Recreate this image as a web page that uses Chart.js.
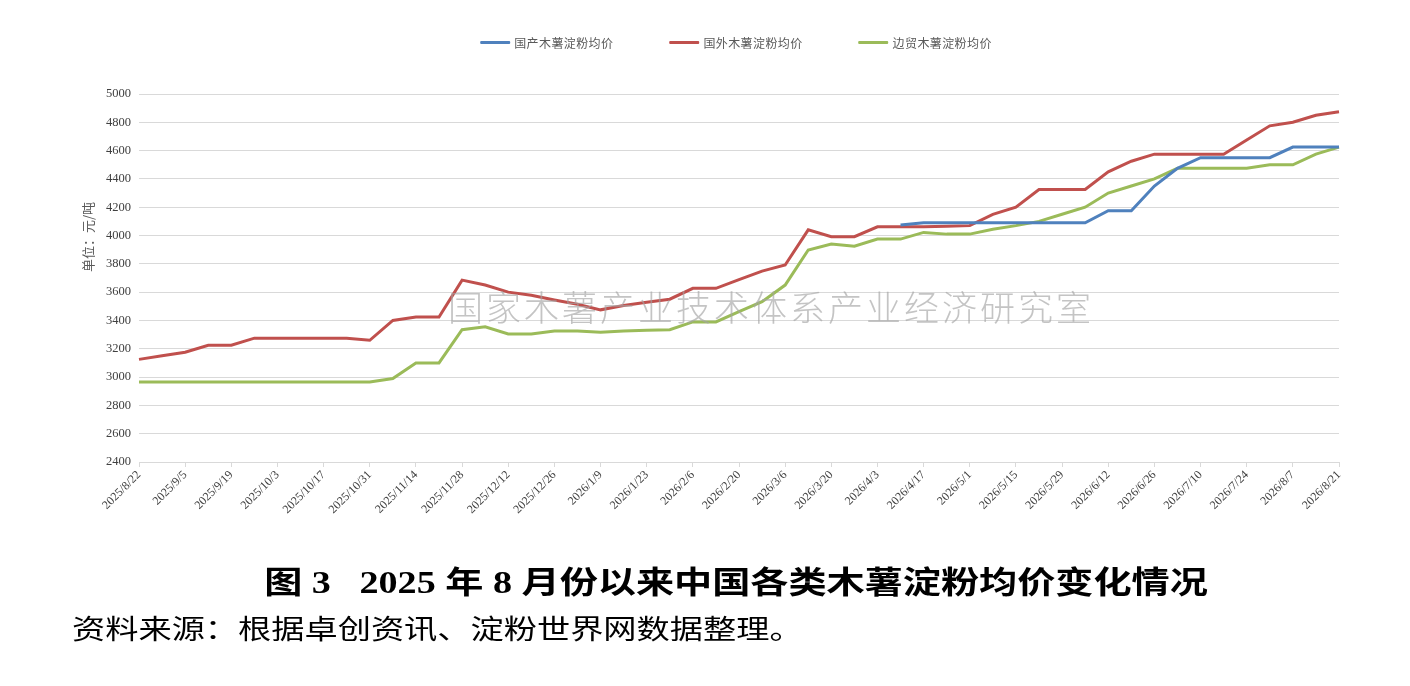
<!DOCTYPE html>
<html>
<head>
<meta charset="utf-8">
<script src="https://cdn.jsdelivr.net/npm/chart.js@4.4.1/dist/chart.umd.min.js"></script>
<style>
  html, body { margin: 0; padding: 0; background: #fff; }
  #wrap { position: relative; width: 1410px; height: 686px; overflow: hidden; }
  #legend {
    position: absolute; top: 34px; left: 736px; transform: translateX(-50%);
    display: flex; align-items: center; gap: 56px;
    font: 12px "Noto Sans CJK SC", sans-serif; color: #595959; letter-spacing: 0.4px;
    white-space: nowrap;
  }
  #legend .item { display: flex; align-items: center; }
  #legend .bar { width: 30px; height: 3px; margin-right: 4px; border-radius: 1px; }
  #title {
    position: absolute; left: 736px; top: 557px;
    transform: translateX(-50%) scaleX(1.23);
    font: bold 31px "Liberation Serif", "Noto Sans CJK SC", serif; color: #000;
    white-space: pre;
  }
  #source {
    position: absolute; left: 72px; top: 608px;
    transform: scaleX(1.23); transform-origin: left center;
    font: 27px "Noto Sans CJK SC", sans-serif; color: #000;
    white-space: pre;
  }
</style>
</head>
<body>
<div id="wrap">
  <canvas id="priceChart"></canvas>
  <div id="legend"></div>
  <div id="title">图 3   2025 年 8 月份以来中国各类木薯淀粉均价变化情况</div>
  <div id="source">资料来源：根据卓创资讯、淀粉世界网数据整理。</div>
</div>
<script>
// weekly dates (x categories)
const dates = [
  "2025/8/22", "2025/8/29", "2025/9/5", "2025/9/12", "2025/9/19", "2025/9/26",
  "2025/10/3", "2025/10/10", "2025/10/17", "2025/10/24", "2025/10/31",
  "2025/11/7", "2025/11/14", "2025/11/21", "2025/11/28",
  "2025/12/5", "2025/12/12", "2025/12/19", "2025/12/26",
  "2026/1/2", "2026/1/9", "2026/1/16", "2026/1/23", "2026/1/30",
  "2026/2/6", "2026/2/13", "2026/2/20", "2026/2/27",
  "2026/3/6", "2026/3/13", "2026/3/20", "2026/3/27",
  "2026/4/3", "2026/4/10", "2026/4/17", "2026/4/24",
  "2026/5/1", "2026/5/8", "2026/5/15", "2026/5/22", "2026/5/29",
  "2026/6/5", "2026/6/12", "2026/6/19", "2026/6/26",
  "2026/7/3", "2026/7/10", "2026/7/17", "2026/7/24", "2026/7/31",
  "2026/8/7", "2026/8/14", "2026/8/21"
];

const seriesNames = ["国产木薯淀粉均价", "国外木薯淀粉均价", "边贸木薯淀粉均价"];

// 国产 (starts 2026/4/10)
const domestic = [
  null, null, null, null, null, null, null, null, null, null, null,
  null, null, null, null, null, null, null, null, null, null, null,
  null, null, null, null, null, null, null, null, null, null, null,
  4075, 4090, 4090, 4090, 4090, 4090, 4090, 4090, 4090,
  4175, 4175, 4350, 4475, 4550, 4550, 4550, 4550, 4625, 4625, 4625
];

// 国外
const imported = [
  3125, 3150, 3175, 3225, 3225, 3275, 3275, 3275, 3275, 3275, 3260,
  3400, 3425, 3425, 3685, 3650, 3600, 3578, 3545, 3515, 3475, 3505,
  3528, 3550, 3627, 3627, 3688, 3749, 3792, 4040, 3992, 3992, 4062,
  4062, 4062, 4065, 4070, 4150, 4200, 4325, 4325, 4325, 4450, 4525,
  4575, 4575, 4575, 4575, 4675, 4775, 4800, 4850, 4875
];

// 边贸
const border = [
  2965, 2965, 2965, 2965, 2965, 2965, 2965, 2965, 2965, 2965, 2965,
  2990, 3100, 3100, 3335, 3355, 3305, 3305, 3325, 3325, 3316, 3325,
  3330, 3335, 3390, 3390, 3462, 3533, 3650, 3898, 3940, 3925, 3975,
  3975, 4022, 4010, 4010, 4045, 4070, 4100, 4150, 4200, 4300, 4350,
  4400, 4475, 4475, 4475, 4475, 4500, 4500, 4575, 4625
];

const colors = ["#4f81bd", "#c0504d", "#9bbb59"];

const yMin = 2400, yMax = 5000, yStep = 200;
const watermark = "国家木薯产业技术体系产业经济研究室";
const yTitle = "单位：元/吨";

// --- plugin: y axis title + watermark ---
const extrasPlugin = {
    id: "extras",
    afterDraw(chart) {
        const ctx = chart.ctx;
        // y axis title
        ctx.save();
        ctx.translate(88, 237);
        ctx.rotate(-Math.PI / 2);
        ctx.font = '13px "Noto Sans CJK SC"';
        ctx.fillStyle = "#595959";
        ctx.textAlign = "center";
        ctx.textBaseline = "middle";
        ctx.fillText(yTitle, 0, 0);
        ctx.restore();

        // watermark
        ctx.save();
        ctx.font = '300 35px "Noto Sans CJK SC"';
        if ("letterSpacing" in ctx) ctx.letterSpacing = "3px";
        ctx.fillStyle = "rgba(165,165,165,0.65)";
        ctx.textAlign = "center";
        ctx.textBaseline = "middle";
        ctx.fillText(watermark, 771, 308);
        ctx.restore();
    }
};

const ctx = document.getElementById("priceChart").getContext("2d");
const chart = new Chart(ctx, {
    type: "line",
    data: {
        labels: dates,
        datasets: [domestic, imported, border].map((d, i) => ({
            label: seriesNames[i],
            data: d,
            borderColor: colors[i],
            backgroundColor: colors[i],
            borderWidth: 3,
            pointRadius: 0,
            tension: 0,
            spanGaps: false
        }))
    },
    options: {
        responsive: true,
        maintainAspectRatio: false,
        animation: false,
        layout: { padding: { left: 60, right: 71, top: 94, bottom: 164 } },
        plugins: {
            legend: { display: false },
            tooltip: { enabled: false }
        },
        scales: {
            x: {
                afterFit: (scale) => { scale.height = 60; },
                border: { display: true, color: "#d9d9d9", width: 1 },
                grid: { drawOnChartArea: false, drawTicks: true, tickLength: 5, color: "#d9d9d9" },
                ticks: {
                    autoSkip: false,
                    minRotation: 45,
                    maxRotation: 45,
                    padding: 1,
                    color: "#404040",
                    font: { family: "Liberation Serif", size: 12 },
                    callback: (v, i) => (i % 2 === 0 ? dates[i] : null)
                }
            },
            y: {
                min: yMin,
                max: yMax,
                afterFit: (scale) => { scale.width = 79; },
                border: { display: false },
                grid: { color: "#d9d9d9", lineWidth: 1, drawTicks: false },
                ticks: {
                    stepSize: yStep,
                    padding: 8,
                    color: "#404040",
                    font: { family: "Liberation Serif", size: 12.5 },
                    callback: (v) => String(v)
                }
            }
        }
    },
    plugins: [extrasPlugin]
});

// --- HTML legend from the chart's datasets ---
document.getElementById("legend").innerHTML = chart.data.datasets.map(ds => `
    <div class="item"><span class="bar" style="background:${ds.borderColor}"></span>${ds.label}</div>
`).join("");
</script>
</body>
</html>
